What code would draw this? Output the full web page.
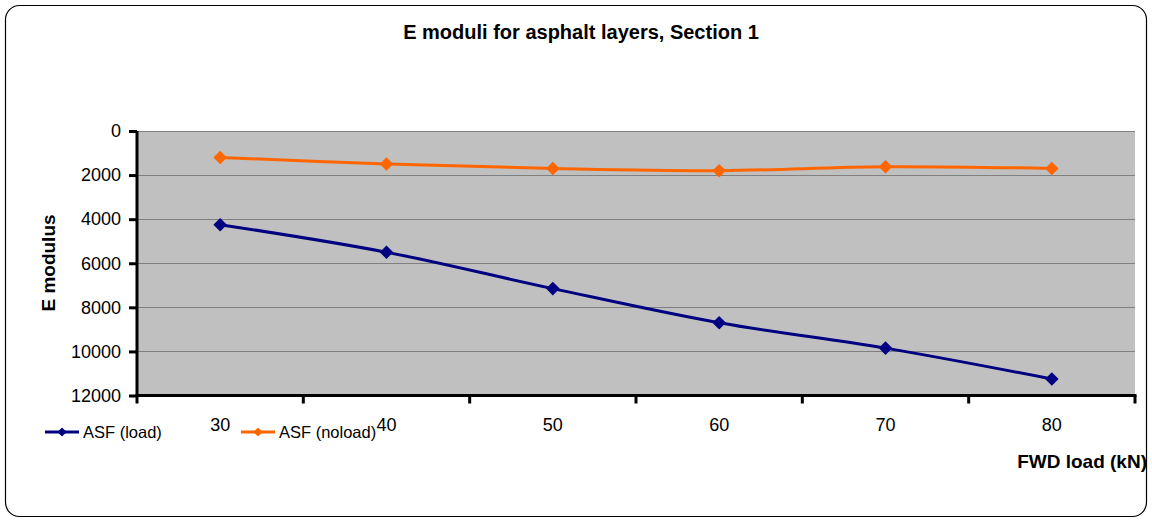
<!DOCTYPE html>
<html>
<head>
<meta charset="utf-8">
<script src="https://cdn.jsdelivr.net/npm/d3@7"></script>
<style>
  body { margin: 0; background: #fff; }
  text { font-family: Arial, "Liberation Sans", sans-serif; fill: #000; }
</style>
</head>
<body>
<div id="chart"></div>
<script>
const loads = ["30", "40", "50", "60", "70", "80"];
const asfLoad = [4250, 5500, 7150, 8700, 9850, 11250];
const asfNoload = [1200, 1500, 1700, 1800, 1620, 1700];
const yTicks = [0, 2000, 4000, 6000, 8000, 10000, 12000];

const series = [
  { name: "ASF (load)", values: asfLoad, color: "#000080" },
  { name: "ASF (noload)", values: asfNoload, color: "#FF6600" },
];

class ModuliChart {
  constructor() {
    this.width = 1152;
    this.height = 520;
    this.plot = { left: 137, right: 1135, top: 131, bottom: 395.5 };
    this.initSvg();
    this.drawAxes();
    this.drawLines();
    this.drawLegend();
  }

  initSvg() {
    this.svg = d3
      .select("#chart")
      .append("svg")
      .attr("width", this.width)
      .attr("height", this.height);

    //外框
    this.svg
      .append("rect")
      .attr("x", 5.5)
      .attr("y", 5.5)
      .attr("width", 1141)
      .attr("height", 511)
      .attr("rx", 14)
      .attr("fill", "#fff")
      .attr("stroke", "#000")
      .attr("stroke-width", 1.2);

    //title
    this.svg
      .append("text")
      .attr("x", 581)
      .attr("y", 39)
      .attr("text-anchor", "middle")
      .attr("font-weight", "bold")
      .attr("font-size", 20)
      .text("E moduli for asphalt layers, Section 1");

    this.x = d3
      .scaleBand()
      .domain(loads)
      .range([this.plot.left, this.plot.right])
      .padding(0);
    this.y = d3
      .scaleLinear()
      .domain([0, 12000])
      .range([this.plot.top, this.plot.bottom]);

    //灰色绘图区
    this.svg
      .append("rect")
      .attr("x", this.plot.left)
      .attr("y", this.plot.top)
      .attr("width", this.plot.right - this.plot.left)
      .attr("height", this.plot.bottom - this.plot.top)
      .attr("fill", "#C0C0C0");
  }

  drawAxes() {
    const p = this.plot;

    //网格线
    this.svg
      .append("g")
      .selectAll("line")
      .data(yTicks.slice(0, -1))
      .join("line")
      .attr("x1", p.left)
      .attr("x2", p.right)
      .attr("y1", (d) => Math.round(this.y(d)) + 0.5)
      .attr("y2", (d) => Math.round(this.y(d)) + 0.5)
      .attr("stroke", "#808080")
      .attr("stroke-width", 1);

    const axisY = this.svg
      .append("g")
      .attr("transform", `translate(${p.left},0)`)
      .call(
        d3
          .axisLeft(this.y)
          .tickValues(yTicks)
          .tickFormat(d3.format("d"))
          .tickSize(8)
          .tickPadding(8)
      );
    axisY.select(".domain").attr("stroke", "#000").attr("stroke-width", 3)
      .attr("d", `M0,${p.top}V${p.bottom + 1}`);
    axisY.selectAll(".tick line").attr("stroke", "#000").attr("stroke-width", 3);
    axisY.selectAll(".tick text").attr("font-size", 18).attr("font-family", null);

    const bounds = loads.map((d) => this.x(d)).concat([p.right]);
    const axisX = this.svg.append("g");
    axisX
      .append("line")
      .attr("x1", p.left - 1.5)
      .attr("x2", p.right + 1.5)
      .attr("y1", p.bottom)
      .attr("y2", p.bottom)
      .attr("stroke", "#000")
      .attr("stroke-width", 3);
    axisX
      .selectAll(".xtick")
      .data(bounds)
      .join("line")
      .attr("class", "xtick")
      .attr("x1", (d) => d)
      .attr("x2", (d) => d)
      .attr("y1", p.bottom)
      .attr("y2", p.bottom + 8)
      .attr("stroke", "#000")
      .attr("stroke-width", 3);
    axisX
      .selectAll(".xlabel")
      .data(loads)
      .join("text")
      .attr("class", "xlabel")
      .attr("x", (d) => this.x(d) + this.x.bandwidth() / 2)
      .attr("y", 431)
      .attr("text-anchor", "middle")
      .attr("font-size", 18)
      .text((d) => d);

    //坐标轴标签
    this.svg
      .append("text")
      .attr("transform", `translate(55,263) rotate(270)`)
      .attr("text-anchor", "middle")
      .attr("font-weight", "bold")
      .attr("font-size", 19)
      .text("E modulus");
    this.svg
      .append("text")
      .attr("x", 1147)
      .attr("y", 468)
      .attr("text-anchor", "end")
      .attr("font-weight", "bold")
      .attr("font-size", 19)
      .text("FWD load (kN)");
  }

  drawLines() {
    const cx = (i) => this.x(loads[i]) + this.x.bandwidth() / 2;
    const line = d3
      .line()
      .x((d, i) => cx(i))
      .y((d) => this.y(d))
      .curve(d3.curveCatmullRom);
    const diamond = d3.symbol(d3.symbolSquare, 92);

    const g = this.svg
      .selectAll(".series")
      .data(series)
      .join("g")
      .attr("class", "series");

    g.append("path")
      .attr("d", (d) => line(d.values))
      .attr("fill", "none")
      .attr("stroke", (d) => d.color)
      .attr("stroke-width", 3);

    g.selectAll("path.mark")
      .data((d) => d.values.map((v, i) => ({ v, i, color: d.color })))
      .join("path")
      .attr("class", "mark")
      .attr("d", diamond)
      .attr("transform", (d) => `translate(${cx(d.i)},${this.y(d.v)}) rotate(45)`)
      .attr("fill", (d) => d.color);
  }

  //图例
  drawLegend() {
    const legendX = [45, 241];
    const item = this.svg
      .selectAll(".legend")
      .data(series)
      .join("g")
      .attr("class", "legend")
      .attr("transform", (d, i) => `translate(${legendX[i]},432)`);
    item
      .append("line")
      .attr("x1", 0)
      .attr("x2", 34)
      .attr("stroke", (d) => d.color)
      .attr("stroke-width", 3);
    item
      .append("path")
      .attr("d", d3.symbol(d3.symbolSquare, 42))
      .attr("transform", "translate(17,0) rotate(45)")
      .attr("fill", (d) => d.color);
    item
      .append("text")
      .attr("x", 38)
      .attr("y", 6)
      .attr("font-size", 16.5)
      .text((d) => d.name);
  }
}

new ModuliChart();
</script>
</body>
</html>
